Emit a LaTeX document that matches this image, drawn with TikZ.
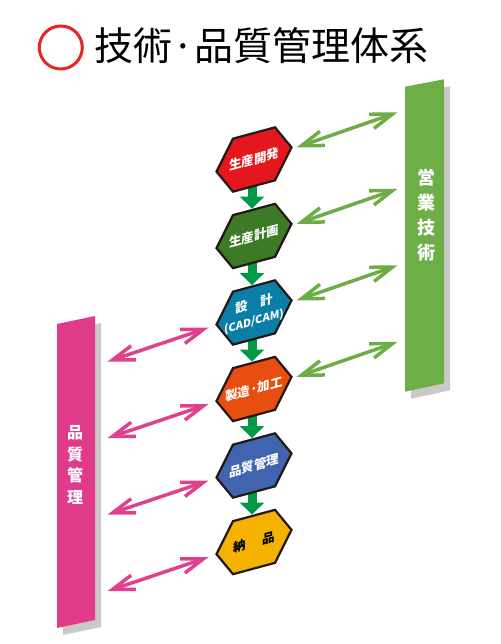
\documentclass[tikz,border=0pt]{standalone}
\usepackage{fontspec}
\setmainfont{Noto Sans CJK JP}
\usetikzlibrary{arrows.meta,calc}
\definecolor{outline}{HTML}{231815}
\definecolor{hexred}{HTML}{E5171E}
\definecolor{hexgreen}{HTML}{3C7A25}
\definecolor{hexteal}{HTML}{0B7EA8}
\definecolor{hexorange}{HTML}{E84E0F}
\definecolor{hexblue}{HTML}{4064AE}
\definecolor{hexyellow}{HTML}{F5B301}
\definecolor{downgreen}{HTML}{009A44}
\definecolor{linkgreen}{HTML}{6DAD45}
\definecolor{linkpink}{HTML}{E0408C}
\definecolor{bargreen}{HTML}{6DAE46}
\definecolor{barpink}{HTML}{DF3B8A}
\definecolor{shadowgray}{HTML}{C9C9C9}
\definecolor{titlered}{HTML}{E8251F}
\pgfdeclarelayer{bg}
\pgfsetlayers{bg,main}
\tikzset{
  hexline/.style={draw=outline, line width=2.2pt, line join=miter},
  hextext/.style={transform shape, font=\bfseries\fontsize{12.5}{14}\selectfont, text=white, align=center, inner sep=0pt},
  flow/.style={draw=downgreen, line width=9pt, -{Triangle[length=12pt,width=24pt]}},
  glink/.style={draw=linkgreen, line width=3.5pt, {Straight Barb[length=22pt,width=15pt]}-{Straight Barb[length=22pt,width=15pt]}},
  plink/.style={draw=linkpink, line width=3.5pt, {Straight Barb[length=22pt,width=15pt]}-{Straight Barb[length=22pt,width=15pt]}},
  bartext/.style={align=center, text=white, inner sep=0pt}
}
\newcommand\hexstep[5]{%
  \begin{scope}[shift={(254,#2)}, yslant=0.27]
    \path[hexline, fill=#3] (-37.5,2) -- (-21,-26.5) -- (21,-26.5) -- (37.5,-2) -- (21,26.5) -- (-21,26.5) -- cycle;
    \node[hextext, text=#5] (#1) at (0,0) {#4};
    \coordinate (#1L) at (-37.5,2);
    \coordinate (#1R) at (37.5,-2);
    \coordinate (#1T) at (-2,-28);
    \coordinate (#1B) at (-2,20);
  \end{scope}}
\begin{document}
\begin{tikzpicture}[x=1pt,y=-1pt]
\useasboundingbox (0,0) rectangle (500,644);
% title
\draw[titlered, line width=3pt] (60.8,47.5) circle (21.5pt);
\node[anchor=base west, inner sep=0pt, font=\fontsize{39}{39}\selectfont] (title) at (94,61) {技術·品質管理体系};
% bars
\fill[shadowgray] (411,93.7) -- (450,86.3) -- (450,390.3) -- (411,398.7) -- cycle;
\fill[bargreen] (405,86.7) -- (444,79.3) -- (444,383.3) -- (405,391.7) -- cycle;
\node[bartext, font=\bfseries\fontsize{18}{25}\selectfont] (eigyo) at (426.5,215) {営\\業\\技\\術};
\fill[shadowgray] (63,331) -- (101,323) -- (101,627) -- (63,635) -- cycle;
\fill[barpink] (57,324) -- (95,316) -- (95,620) -- (57,628) -- cycle;
\node[bartext, font=\bfseries\fontsize{16}{21.7}\selectfont] (hinshitsu) at (75,465) {品\\質\\管\\理};
% hexagons
\hexstep{h1}{159.5}{hexred}{生産開発}{white}
\hexstep{h2}{236}{hexgreen}{生産計画}{white}
\hexstep{h3}{312.5}{hexteal}{設　計\\[3pt]{\fontsize{11}{12}\selectfont(CAD/CAM)}}{white}
\hexstep{h4}{389}{hexorange}{製造·加工}{white}
\hexstep{h5}{465.5}{hexblue}{品質管理}{white}
\hexstep{h6}{542}{hexyellow}{納\hspace{1.3em}品}{black}
% flow arrows
\begin{pgfonlayer}{bg}
\draw[flow] (h1B) -- (h2T);
\draw[flow] (h2B) -- (h3T);
\draw[flow] (h3B) -- (h4T);
\draw[flow] (h4B) -- (h5T);
\draw[flow] (h5B) -- (h6T);
\end{pgfonlayer}
% green links to 営業技術
\foreach \i in {1,2,3,4}{
  \coordinate (gs\i) at ($(h\i R)+(5,0)$);
  \coordinate (ge\i) at ($(h\i R)+(106,-35)$);
  \draw[glink] (gs\i) -- (ge\i);
}
% pink links to 品質管理
\foreach \i in {3,4,5,6}{
  \coordinate (ps\i) at ($(h\i L)+(-8,3)$);
  \coordinate (pe\i) at ($(h\i L)+(-109,37)$);
  \draw[plink] (pe\i) -- (ps\i);
}
\end{tikzpicture}
\end{document}
